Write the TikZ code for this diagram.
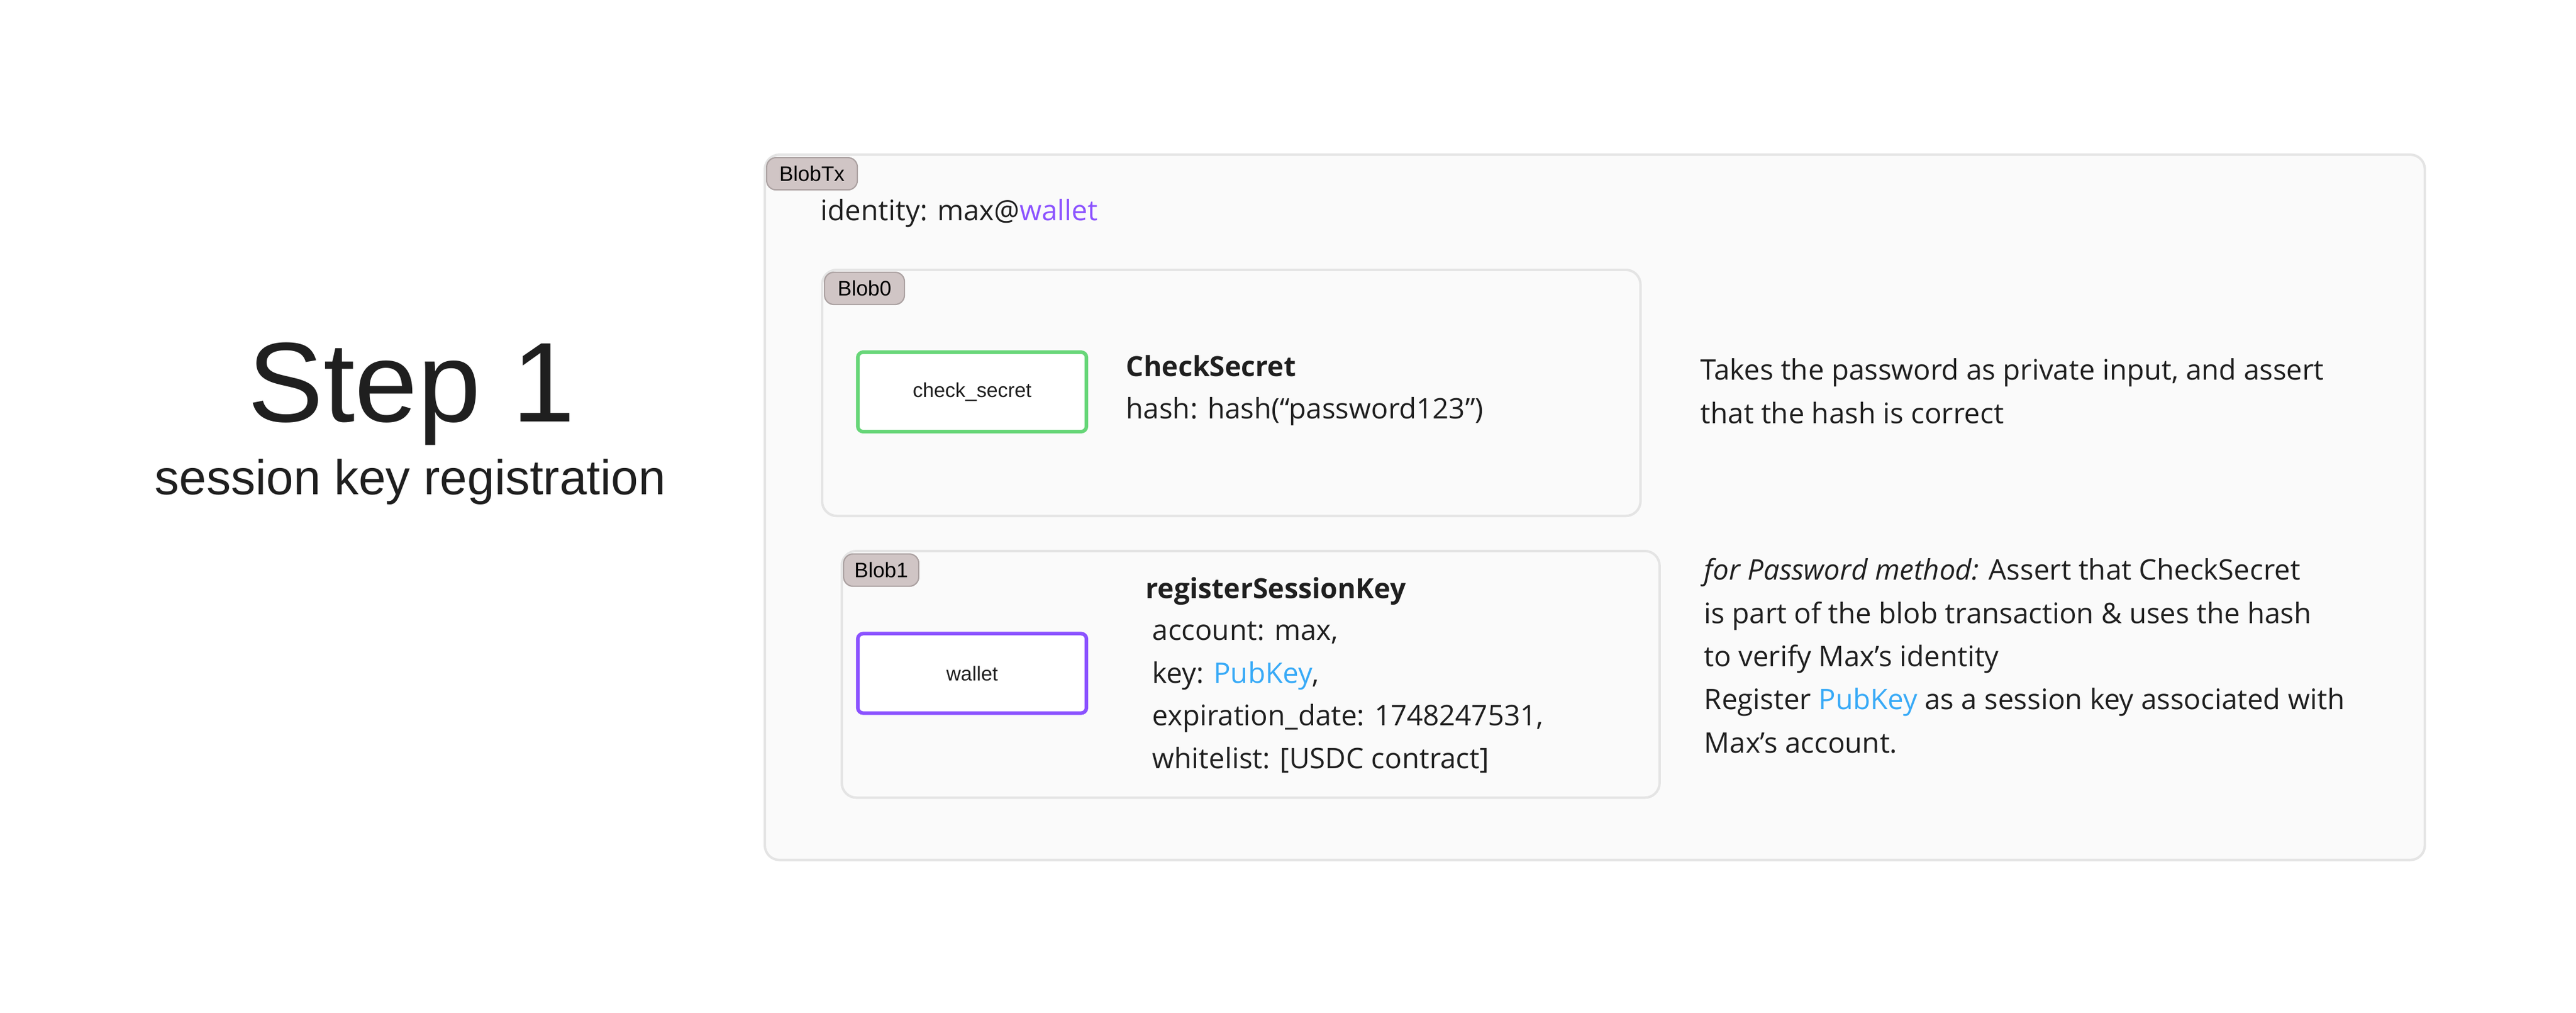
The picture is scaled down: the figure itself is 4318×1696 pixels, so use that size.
\documentclass[tikz,border=0pt]{standalone}
\usepackage{fontspec}
\setmainfont{Open Sans}
\newfontfamily\helv{Liberation Sans}
\usetikzlibrary{positioning}

\definecolor{ink}{HTML}{1F1F1F}
\definecolor{boxfill}{HTML}{FAFAFA}
\definecolor{boxline}{HTML}{E4E4E4}
\definecolor{tagfill}{HTML}{D0C5C5}
\definecolor{tagline}{HTML}{ABA1A1}
\definecolor{secretgreen}{HTML}{67D678}
\definecolor{walletpurple}{HTML}{8B52FF}
\definecolor{keyblue}{HTML}{38AAF7}

\tikzset{
  blobbox/.style={draw=boxline, line width=1.15pt, fill=boxfill, rounded corners=7pt,
    anchor=north west, inner sep=0pt},
  blobtag/.style={draw=tagline, line width=0.6pt, fill=tagfill, rounded corners=4.5pt,
    anchor=north west, minimum height=0.54cm, inner sep=0pt, text=black,
    font=\helv\fontsize{10}{12}\selectfont},
  program/.style={draw=#1, line width=1.7pt, fill=white, rounded corners=2.5pt,
    minimum width=3.83cm, minimum height=1.33cm, inner sep=0pt, text=ink,
    font=\helv\fontsize{9.6}{11}\selectfont},
  body/.style={anchor=base west, inner sep=0pt, text=ink, align=left,
    font=\fontsize{13.5}{20.5}\selectfont},
  bodybold/.style={body, font=\bfseries\fontsize{13.2}{20.5}\selectfont},
}

\begin{document}
\begin{tikzpicture}[x=0.01cm, y=-0.01cm]
    \useasboundingbox (0,0) rectangle (4318,1696);

    % title on the left
    \node[anchor=base, inner sep=0pt, text=ink, font=\helv\fontsize{54}{60}\selectfont]
        (steptitle) at (690,706) {Step 1};
    \node[anchor=base, inner sep=0pt, text=ink, font=\helv\fontsize{23.3}{28}\selectfont]
        (stepname) at (688,828) {session key registration};

    % blob transaction
    \node[blobbox, minimum width=27.81cm, minimum height=11.81cm] (blobtx) at (1280,257) {};
    \node[blobtag, minimum width=1.52cm] (blobtxtag) at (1284,263) {BlobTx};
    \node[body] (identity) at (1375,369) {identity: max@\textcolor{walletpurple}{wallet}};

    % first blob
    \node[blobbox, minimum width=13.71cm, minimum height=4.12cm] (blob0) at (1376,450) {};
    \node[blobtag, minimum width=1.34cm] (blob0tag) at (1381,455) {Blob0};
    \node[program=secretgreen] (checksecret) at (1629.5,656.5) {check\_secret};
    \node[bodybold] (secretname) at (1887,630) {CheckSecret};
    \node[body] (secrethash) at (1887,701) {hash: hash(“password123”)};
    % base of a node with several lines is its last line
    \node[body] (secretnote) at (2850,709) {Takes the password as private input, and assert\\that the hash is correct};

    % second blob
    \node[blobbox, minimum width=13.70cm, minimum height=4.13cm] (blob1) at (1409,921) {};
    \node[blobtag, minimum width=1.26cm] (blob1tag) at (1413,927) {Blob1};
    \node[program=walletpurple] (wallet) at (1629.5,1128) {wallet};
    \node[bodybold] (walletname) at (1920,1002) {registerSessionKey};
    \node[body, font=\fontsize{13.5}{20.3}\selectfont] (walletargs) at (1931,1287)
        {account: max,\\key: \textcolor{keyblue}{PubKey},\\expiration\_date: 1748247531,\\whitelist: [USDC contract]};
    \node[body, font=\fontsize{13.5}{20.55}\selectfont] (walletnote) at (2856,1261)
        {\textit{for Password method:} Assert that CheckSecret\\is part of the blob transaction \& uses the hash\\to verify Max’s identity\\Register \textcolor{keyblue}{PubKey} as a session key associated with\\Max’s account.};
\end{tikzpicture}
\end{document}
